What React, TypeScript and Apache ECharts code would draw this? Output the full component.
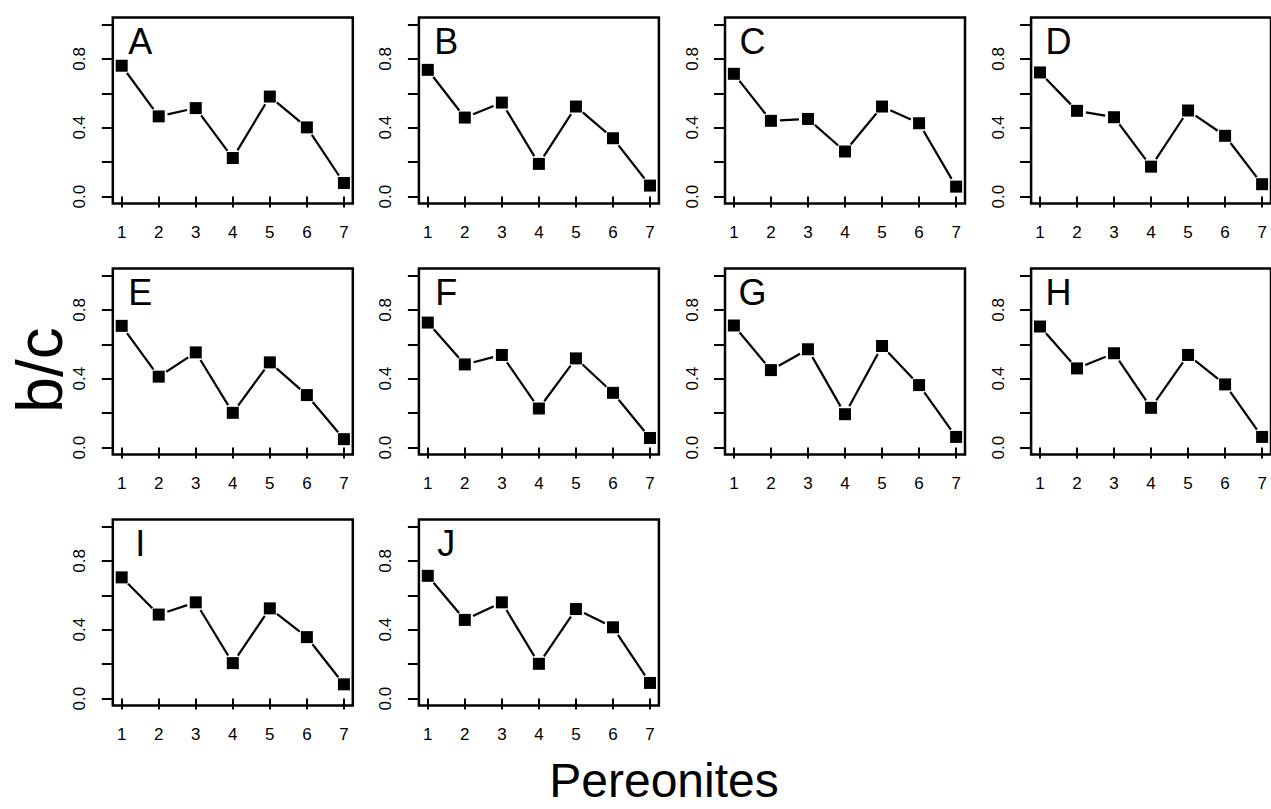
import React, { useEffect, useRef } from "react";
import * as echarts from "echarts";

// Pereonite positions (x axis)
const pereonites = [1, 2, 3, 4, 5, 6, 7];
const yTicks = [0, 0.2, 0.4, 0.6, 0.8, 1.0];
const yLabels = [0, 0.4, 0.8];

const panelLetters = ["A", "B", "C", "D", "E", "F", "G", "H", "I", "J"];

// b/c values per panel
const bcA = [0.76, 0.466, 0.514, 0.224, 0.581, 0.402, 0.079];
const bcB = [0.736, 0.459, 0.546, 0.19, 0.523, 0.339, 0.064];
const bcC = [0.713, 0.44, 0.451, 0.262, 0.523, 0.426, 0.058];
const bcD = [0.721, 0.498, 0.461, 0.174, 0.5, 0.353, 0.072];
const bcE = [0.707, 0.412, 0.553, 0.202, 0.495, 0.305, 0.049];
const bcF = [0.726, 0.483, 0.538, 0.227, 0.518, 0.318, 0.056];
const bcG = [0.709, 0.45, 0.571, 0.194, 0.59, 0.363, 0.062];
const bcH = [0.703, 0.46, 0.548, 0.231, 0.538, 0.367, 0.062];
const bcI = [0.704, 0.488, 0.559, 0.206, 0.524, 0.357, 0.083];
const bcJ = [0.713, 0.457, 0.559, 0.202, 0.52, 0.414, 0.091];

const panelValues = [bcA, bcB, bcC, bcD, bcE, bcF, bcG, bcH, bcI, bcJ];

const FONT = "Liberation Sans";
const TICK_FONT = 17;

// axis ranges (R's 4% extension)
const X_MIN = 0.76;
const X_MAX = 7.24;
const Y_MIN = -0.04;
const Y_MAX = 1.04;

// layout
const colLefts = [112.8, 418.9, 725, 1031.1];
const rowTops = [17.5, 268.5, 519.5];
const gridW = 240;
const gridH = 186;

export default function App() {
  const ref = useRef<HTMLDivElement>(null);

  useEffect(() => {
    if (!ref.current) return;
    const chart = echarts.init(ref.current, null, { renderer: "svg" });

    const grids: any[] = [];
    const xAxes: any[] = [];
    const yAxes: any[] = [];
    const series: any[] = [];

    panelValues.forEach((vals, i) => {
      const col = i % 4;
      const row = Math.floor(i / 4);
      grids.push({
        left: colLefts[col],
        top: rowTops[row],
        width: gridW,
        height: gridH,
        show: true,
        borderColor: "#000",
        borderWidth: 2.5,
        backgroundColor: "transparent",
        containLabel: false,
      });
      xAxes.push({
        gridIndex: i,
        type: "value",
        min: X_MIN,
        max: X_MAX,
        axisLine: { show: false },
        splitLine: { show: false },
        axisTick: {
          show: true,
          length: 11,
          customValues: pereonites,
          lineStyle: { color: "#000", width: 2 },
        },
        axisLabel: { show: false },
      });
      yAxes.push({
        gridIndex: i,
        type: "value",
        min: Y_MIN,
        max: Y_MAX,
        axisLine: { show: false },
        splitLine: { show: false },
        axisTick: {
          show: true,
          length: 11,
          customValues: yTicks,
          lineStyle: { color: "#000", width: 2 },
        },
        axisLabel: { show: false },
      });

      // x tick labels, placed through the axis scale
      series.push({
        type: "custom",
        xAxisIndex: i,
        yAxisIndex: i,
        clip: false,
        silent: true,
        data: pereonites.map((x) => [x, Y_MIN]),
        renderItem: (params: any, api: any) => {
          const x = api.value(0);
          const p = api.coord([x, api.value(1)]);
          return {
            type: "text",
            x: p[0],
            y: p[1] + 29,
            style: {
              text: String(x),
              fontSize: TICK_FONT,
              fontFamily: FONT,
              fill: "#000",
              align: "center",
              verticalAlign: "middle",
            },
          };
        },
      });
      // y tick labels (rotated, reading upward)
      series.push({
        type: "custom",
        xAxisIndex: i,
        yAxisIndex: i,
        clip: false,
        silent: true,
        data: yLabels.map((v) => [X_MIN, v]),
        renderItem: (params: any, api: any) => {
          const v = api.value(1);
          const p = api.coord([api.value(0), v]);
          return {
            type: "text",
            x: p[0] - 33,
            y: p[1],
            rotation: Math.PI / 2,
            style: {
              text: v.toFixed(1),
              fontSize: TICK_FONT,
              fontFamily: FONT,
              fill: "#000",
              align: "center",
              verticalAlign: "middle",
            },
          };
        },
      });

      const segs = vals.slice(0, -1).map((v, j) => [pereonites[j], v, pereonites[j + 1], vals[j + 1]]);
      series.push({
        type: "custom",
        xAxisIndex: i,
        yAxisIndex: i,
        data: segs,
        encode: { x: [0, 2], y: [1, 3] },
        silent: true,
        renderItem: (params: any, api: any) => {
          const p1 = api.coord([api.value(0), api.value(1)]);
          const p2 = api.coord([api.value(2), api.value(3)]);
          const dx = p2[0] - p1[0];
          const dy = p2[1] - p1[1];
          const len = Math.sqrt(dx * dx + dy * dy);
          const g = 9;
          if (len <= 2 * g) return null;
          const ux = dx / len;
          const uy = dy / len;
          return {
            type: "line",
            shape: {
              x1: p1[0] + ux * g,
              y1: p1[1] + uy * g,
              x2: p2[0] - ux * g,
              y2: p2[1] - uy * g,
            },
            style: { stroke: "#000", lineWidth: 2.2 },
          };
        },
      });
      series.push({
        type: "scatter",
        xAxisIndex: i,
        yAxisIndex: i,
        symbol: "rect",
        symbolSize: 12,
        itemStyle: { color: "#000", opacity: 1 },
        data: pereonites.map((x, j) => [x, vals[j]]),
        silent: true,
      });
      series.push({
        type: "scatter",
        xAxisIndex: i,
        yAxisIndex: i,
        symbolSize: 0,
        silent: true,
        itemStyle: { opacity: 1 },
        data: [[1.5, 0.9]],
        label: {
          show: true,
          position: "inside",
          formatter: panelLetters[i],
          fontSize: 36,
          color: "#000",
          fontFamily: FONT,
        },
      });
    });

    chart.setOption({
      animation: false,
      backgroundColor: "#fff",
      textStyle: { fontFamily: FONT, color: "#000" },
      grid: grids,
      xAxis: xAxes,
      yAxis: yAxes,
      series,
      graphic: [
        {
          type: "text",
          x: 40,
          y: 370,
          rotation: Math.PI / 2,
          style: {
            text: "b/c",
            fontSize: 64,
            fontFamily: FONT,
            fill: "#000",
            align: "center",
            verticalAlign: "middle",
          },
        },
        {
          type: "text",
          x: 664,
          y: 780,
          style: {
            text: "Pereonites",
            fontSize: 48,
            fontFamily: FONT,
            fill: "#000",
            align: "center",
            verticalAlign: "middle",
          },
        },
      ],
    });

    return () => chart.dispose();
  }, []);

  return (
    <div
      ref={ref}
      style={{ position: "absolute", left: 0, top: 0, width: 1271, height: 809 }}
    />
  );
}
